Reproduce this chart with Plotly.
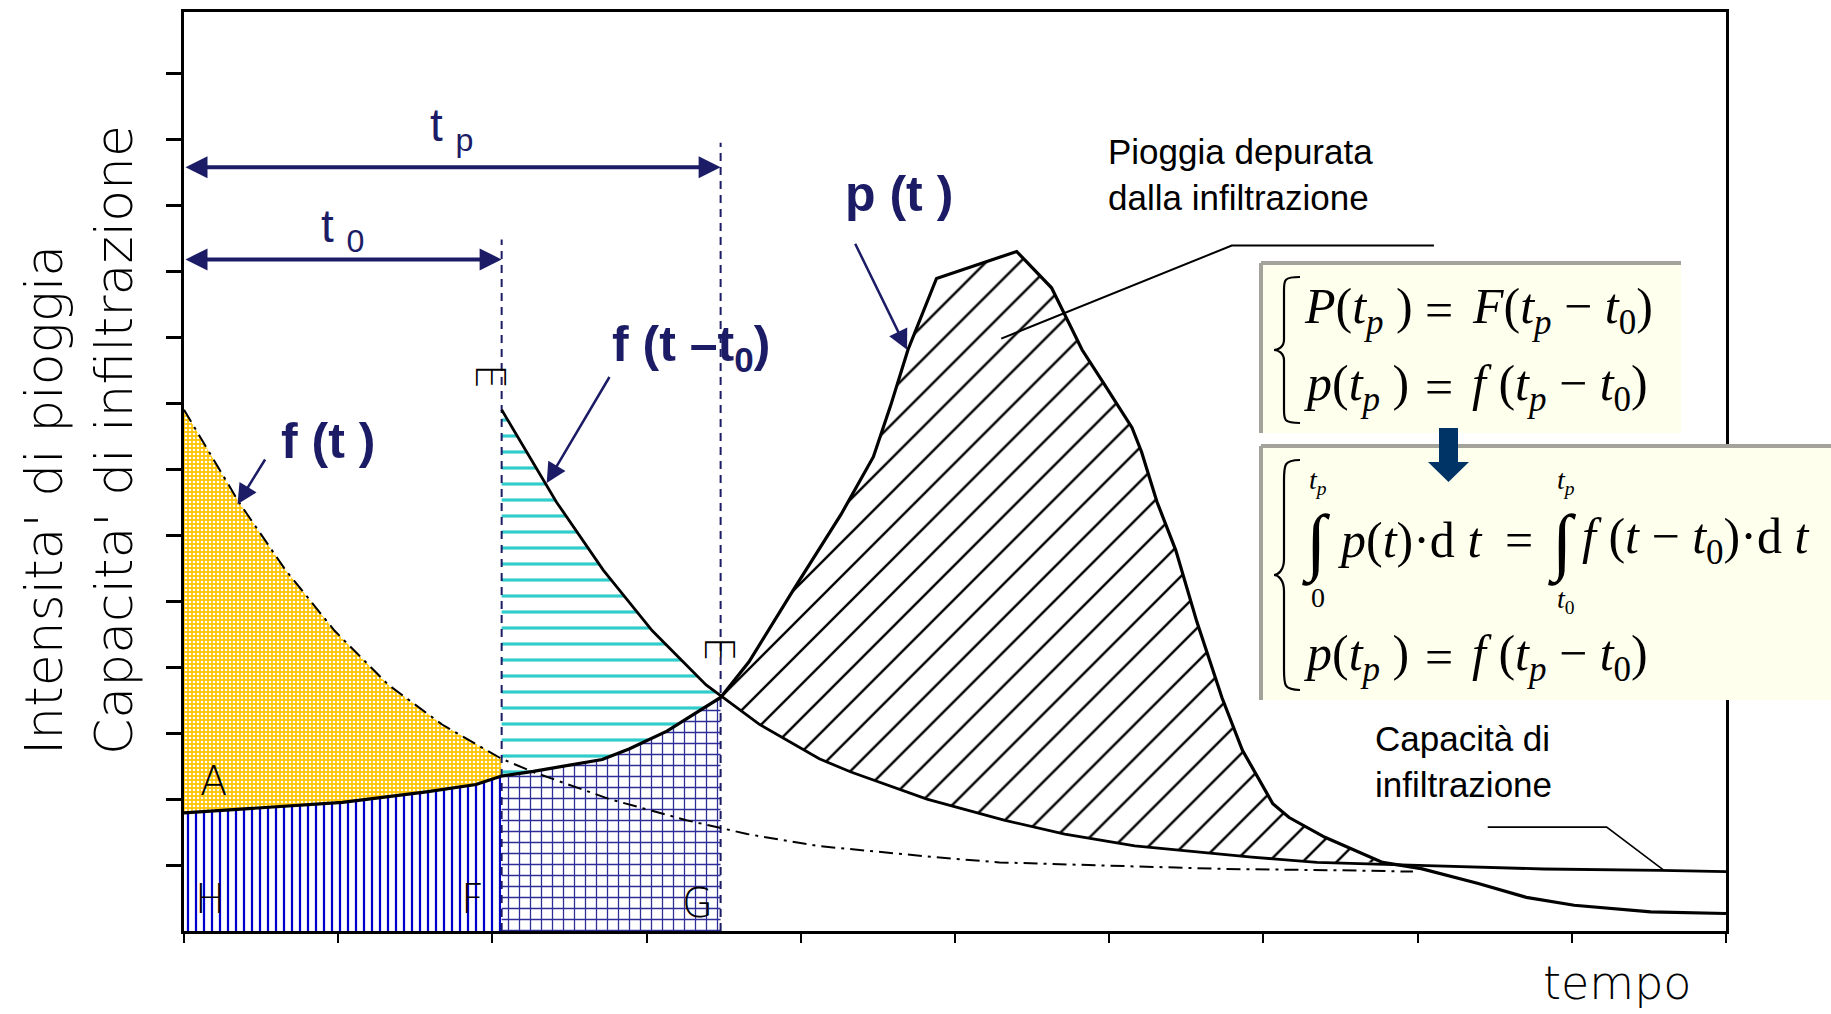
import numpy as np
import plotly.graph_objects as go

# ---------------- data (time units / intensity units) ----------------
T0 = 2.06          # t0
TP = 3.48          # tp
X_CROSS = 7.85     # end of the hatched (net rain) area

# infiltration capacity f(t)
f_t = [0.0, 0.356, 0.659, 0.977, 1.326, 1.674, 2.06, 2.265, 2.758, 3.258, 3.652,
       4.106, 4.864, 5.288, 6.0, 6.758, 7.515, 7.97]
f_val = [7.90, 6.50, 5.47, 4.55, 3.73, 3.13, 2.61, 2.41, 2.00, 1.68, 1.47,
         1.29, 1.12, 1.04, 0.99, 0.94, 0.92, 0.90]

# rainfall intensity p(t)
p_t = [0.0, 0.53, 1.027, 1.572, 1.894, 2.06, 2.265, 2.712, 2.886, 3.132,
       3.48, 3.664, 3.949, 4.26, 4.471, 4.582, 4.695, 4.88, 5.227, 5.40,
       5.626, 5.824, 5.973, 6.148, 6.21, 6.309, 6.432, 6.568, 6.731, 6.864,
       7.061, 7.167, 7.399, 7.65, 7.773, 8.023, 8.394, 8.705, 9.015, 9.512, 10.0]
p_val = [1.79, 1.87, 1.95, 2.11, 2.22, 2.35, 2.42, 2.60, 2.76, 3.03,
         3.54, 4.08, 5.16, 6.31, 7.19, 7.96, 8.81, 9.89, 10.16, 10.30,
         9.75, 8.81, 8.27, 7.63, 7.26, 6.51, 5.77, 4.69, 3.54, 2.74,
         1.93, 1.72, 1.42, 1.17, 1.04, 0.945, 0.72, 0.51, 0.39, 0.29, 0.265]

x_ticks = list(range(0, 11))
y_ticks = list(range(1, 14))
X_RANGE = [0, 10]
Y_RANGE = [0, 13.93]

# labels
lbl_ft = ("f (t )", 0.933, 7.42)
lbl_ft0 = ("f (t –t<sub>0</sub>)", 3.29, 8.85)
lbl_pt = ("p (t )", 4.636, 11.17)
lbl_tp = ("t <sub>p</sub>", 1.735, 12.16)
lbl_t0 = ("t <sub>0</sub>", 1.03, 10.64)
lbl_pioggia = ("Pioggia depurata<br>dalla infiltrazione", 5.98, 11.47)
lbl_capac = ("Capacità di<br>infiltrazione", 7.71, 2.57)
point_letters = [("A", 0.19, 2.28, 0), ("H", 0.167, 0.48, 0), ("F", 1.87, 0.48, 0),
                 ("G", 3.33, 0.42, 0), ("E", 1.985, 8.41, 90), ("E", 3.47, 4.28, 90)]

# pointer arrows (head x, head y, tail x, tail y)
ptr_ft = (0.347, 6.47, 0.532, 7.17)
ptr_ft0 = (2.352, 6.79, 2.765, 8.42)
ptr_pt = (4.689, 8.81, 4.348, 10.44)
Y_ARROW_TP = 11.575
Y_ARROW_T0 = 10.18
Y_TOP_TP = 11.95
Y_TOP_T0 = 10.48
lead_pioggia_x = [8.106, 6.795, 5.30]
lead_pioggia_y = [10.39, 10.39, 8.98]
lead_capac_x = [8.455, 9.226, 9.598]
lead_capac_y = [1.575, 1.575, 0.92]

# ---------------- layout geometry ----------------
W, H = 1831, 1014
ML, MR, MT, MB = 184, 105, 12, 83
PW = W - ML - MR
PH = H - MT - MB


def px(x):
    return (x - ML) / PW


def py(y):
    return (H - MB - y) / PH


NAVY = "#1C1C66"

ft = np.array(f_t)
fv = np.array(f_val)
pt = np.array(p_t)
pv = np.array(p_val)
fs_t = ft + T0          # f(t - t0)

eps = 1e-9
m_left = pt <= T0 + eps
m_mid = (pt >= T0 - eps) & (pt <= TP + eps)

fig = go.Figure()


def region(xs, ys, pattern):
    fig.add_trace(go.Scatter(x=list(xs), y=list(ys), mode="lines", fill="toself",
                             line=dict(width=0, color="rgba(0,0,0,0)"),
                             fillcolor=pattern.get("bgcolor", "white"),
                             fillpattern=pattern, hoverinfo="skip", showlegend=False))


# yellow (A): between f(t) and p(t) for t<t0
region(list(ft[ft <= T0 + eps]) + list(pt[m_left][::-1]),
       list(fv[ft <= T0 + eps]) + list(pv[m_left][::-1]),
       dict(shape=".", fgcolor="white", bgcolor="#FFC400", size=4, solidity=0.35, fillmode="replace"))
# vertical blue hatch under p(t), t<t0
region(list(pt[m_left]) + [T0, 0], list(pv[m_left]) + [0, 0],
       dict(shape="|", fgcolor="#0000CC", bgcolor="white", size=8, solidity=0.28, fillmode="replace"))
# grid under p(t), t0<t<tp
region(list(pt[m_mid]) + [TP, T0], list(pv[m_mid]) + [0, 0],
       dict(shape="+", fgcolor="#2E2E99", bgcolor="white", size=11, solidity=0.22, fillmode="replace"))
# cyan: between f(t-t0) and p(t) for t0<t<tp
m_fs = fs_t < TP
region(list(fs_t[m_fs]) + list(pt[m_mid][::-1]),
       list(fv[m_fs]) + list(pv[m_mid][::-1]),
       dict(shape="-", fgcolor="#33CCCC", bgcolor="white", size=16, solidity=0.2, fillmode="replace"))
# black diagonal hatch: net rain p(t) - f(t-t0)
m_ph = (pt >= TP - eps) & (pt <= X_CROSS)
m_fh = (fs_t > TP) & (fs_t <= X_CROSS)
region(list(pt[m_ph]) + list(fs_t[m_fh][::-1]),
       list(pv[m_ph]) + list(fv[m_fh][::-1]),
       dict(shape="/", fgcolor="black", bgcolor="white", size=24, solidity=0.1, fillmode="replace"))

# vertical dashed lines at t0 and tp
fig.add_trace(go.Scatter(x=[T0, T0], y=[0, Y_TOP_T0], mode="lines",
                         line=dict(color=NAVY, width=2, dash="8px,6px"), hoverinfo="skip", showlegend=False))
fig.add_trace(go.Scatter(x=[TP, TP], y=[0, Y_TOP_TP], mode="lines",
                         line=dict(color=NAVY, width=2, dash="8px,6px"), hoverinfo="skip", showlegend=False))

# curves
fig.add_trace(go.Scatter(x=f_t, y=f_val, mode="lines",
                         line=dict(color="black", width=2, dash="14px,6px,3px,6px"),
                         hoverinfo="skip", showlegend=False))
fig.add_trace(go.Scatter(x=list(fs_t), y=f_val, mode="lines",
                         line=dict(color="black", width=2.8), hoverinfo="skip", showlegend=False))
fig.add_trace(go.Scatter(x=p_t, y=p_val, mode="lines",
                         line=dict(color="black", width=3.2), hoverinfo="skip", showlegend=False))
# leader lines
fig.add_trace(go.Scatter(x=lead_pioggia_x, y=lead_pioggia_y, mode="lines",
                         line=dict(color="black", width=2), hoverinfo="skip", showlegend=False))
fig.add_trace(go.Scatter(x=lead_capac_x, y=lead_capac_y, mode="lines",
                         line=dict(color="black", width=1.6), hoverinfo="skip", showlegend=False))

ann = []
# double arrows tp, t0
for yy, xe in [(Y_ARROW_TP, TP), (Y_ARROW_T0, T0)]:
    ann.append(dict(x=xe, y=yy, ax=0, ay=yy, xref="x", yref="y", axref="x", ayref="y",
                    text="", showarrow=True, arrowhead=2, arrowside="end+start",
                    arrowsize=1.1, arrowwidth=4, arrowcolor=NAVY))
# pointer arrows
for hx, hy, tx, tyy in [ptr_ft, ptr_ft0, ptr_pt]:
    ann.append(dict(x=hx, y=hy, ax=tx, ay=tyy, xref="x", yref="y", axref="x", ayref="y",
                    text="", showarrow=True, arrowhead=2, arrowsize=1.6,
                    arrowwidth=2.5, arrowcolor=NAVY))

BOLD = dict(family="Liberation Sans, Arial, sans-serif", size=50, color=NAVY, weight="bold")
for t, x, y in [lbl_ft, lbl_ft0, lbl_pt]:
    ann.append(dict(x=x, y=y, xref="x", yref="y", text="<b>" + t + "</b>", showarrow=False,
                    font=BOLD, xanchor="center", yanchor="middle"))
for t, x, y in [lbl_tp, lbl_t0]:
    ann.append(dict(x=x, y=y, xref="x", yref="y", text=t, showarrow=False,
                    font=dict(family="Liberation Sans, Arial, sans-serif", size=46, color=NAVY),
                    xanchor="center", yanchor="middle"))
for t, x, y in [lbl_pioggia, lbl_capac]:
    ann.append(dict(x=x, y=y, xref="x", yref="y", text=t, showarrow=False, align="left",
                    font=dict(family="Liberation Sans, Arial, sans-serif", size=35, color="black"),
                    xanchor="left", yanchor="middle"))
for t, x, y, ang in point_letters:
    ann.append(dict(x=x, y=y, xref="x", yref="y", text=t, showarrow=False, textangle=ang,
                    font=dict(family="DejaVu Sans, sans-serif", size=40, color="black", weight=200),
                    xanchor="center", yanchor="middle"))

# axis titles
AX_FONT = dict(family="DejaVu Sans, sans-serif", size=52, color="black", weight=200)
ann.append(dict(x=px(44), y=py(757), xref="paper", yref="paper", text="Intensita' di pioggia",
                showarrow=False, textangle=-90, font=AX_FONT, xanchor="center", yanchor="bottom"))
ann.append(dict(x=px(114), y=py(757), xref="paper", yref="paper", text="Capacita' di infiltrazione",
                showarrow=False, textangle=-90, font=AX_FONT, xanchor="center", yanchor="bottom"))
ann.append(dict(x=px(1617), y=py(1012), xref="paper", yref="paper", text="tempo",
                showarrow=False, font=dict(family="DejaVu Sans, sans-serif", size=46, color="black", weight=200),
                xanchor="center", yanchor="bottom"))

# ---------------- formula boxes ----------------
shapes = []
BOX_FILL = "#FFFFEE"
GRAY = "#A3A39C"
for (x0, y0, x1, y1) in [(1261, 263, 1681, 433), (1261, 446, 1831, 700)]:
    shapes.append(dict(type="rect", xref="paper", yref="paper", x0=px(x0), x1=px(x1),
                       y0=py(y1), y1=py(y0), fillcolor=BOX_FILL, line=dict(width=0), layer="above"))
    shapes.append(dict(type="line", xref="paper", yref="paper", x0=px(x0), x1=px(x1),
                       y0=py(y0), y1=py(y0), line=dict(color=GRAY, width=4), layer="above"))
    shapes.append(dict(type="line", xref="paper", yref="paper", x0=px(x0), x1=px(x0),
                       y0=py(y0), y1=py(y1), line=dict(color=GRAY, width=4), layer="above"))


def P(x, y):
    return f"{px(x):.5f},{py(y):.5f}"


def brace(xt, xm, xp, yt, yb):
    h = yb - yt
    ym = (yt + yb) / 2
    return ("M " + P(xt, yt) +
            " C " + P(xm, yt) + " " + P(xm, yt + 0.02 * h) + " " + P(xm, yt + 0.09 * h) +
            " L " + P(xm, ym - 0.07 * h) +
            " C " + P(xm, ym - 0.02 * h) + " " + P(xp + 4, ym) + " " + P(xp, ym) +
            " C " + P(xp + 4, ym) + " " + P(xm, ym + 0.02 * h) + " " + P(xm, ym + 0.07 * h) +
            " L " + P(xm, yb - 0.09 * h) +
            " C " + P(xm, yb - 0.02 * h) + " " + P(xm, yb) + " " + P(xt, yb))


for yt, yb in [(277, 423), (460, 690)]:
    shapes.append(dict(type="path", xref="paper", yref="paper", path=brace(1300, 1284, 1274, yt, yb),
                       line=dict(color="black", width=2.2), layer="above"))

# down arrow between boxes
arrow_path = ("M " + P(1439, 428) + " L " + P(1458, 428) + " L " + P(1458, 462) + " L " + P(1469, 462) +
              " L " + P(1448.5, 482) + " L " + P(1428, 462) + " L " + P(1439, 462) + " Z")
shapes.append(dict(type="path", xref="paper", yref="paper", path=arrow_path,
                   fillcolor="#003366", line=dict(width=0), layer="above"))

SERIF_FAM = "Liberation Serif, Times New Roman, serif"
SERIF = dict(family=SERIF_FAM, size=50, color="black")
SERIF_S = dict(family=SERIF_FAM, size=28, color="black")


def txt(t, x, y, font, xanchor="left"):
    ann.append(dict(x=px(x), y=py(y), xref="paper", yref="paper", text=t, showarrow=False,
                    font=font, xanchor=xanchor, yanchor="middle"))


left_P = "<i>P</i>(<i>t</i><sub><i>p</i></sub> )"
left_p = "<i>p</i>(<i>t</i><sub><i>p</i></sub> )"
right_F = "<i>F</i>(<i>t</i><sub><i>p</i></sub> − <i>t</i><sub>0</sub>)"
right_f = "<i>f</i> (<i>t</i><sub><i>p</i></sub> − <i>t</i><sub>0</sub>)"
for lt, rt, y in [(left_P, right_F, 310), (left_p, right_f, 387), (left_p, right_f, 657)]:
    txt(lt, 1302, y, SERIF)
    txt("=", 1439, y, SERIF, "center")
    txt(rt, 1470, y, SERIF)

txt("<i>p</i>(<i>t</i>)·d <i>t</i>", 1336, 540, SERIF)
txt("=", 1519, 540, SERIF, "center")
txt("<i>f</i> (<i>t</i> − <i>t</i><sub>0</sub>)·d <i>t</i>", 1580, 540, SERIF)
for xc in [1316, 1562]:
    txt("∫", xc, 543, dict(family=SERIF_FAM, size=74, color="black"), "center")
for t, x, y in [("<i>t<sub>p</sub></i>", 1318, 482), ("0", 1318, 598),
                ("<i>t<sub>p</sub></i>", 1566, 482), ("<i>t</i><sub>0</sub>", 1566, 600)]:
    txt(t, x, y, SERIF_S, "center")

axis_common = dict(showgrid=False, zeroline=False, showticklabels=False, showline=True,
                   mirror=True, linecolor="black", linewidth=3, ticks="outside",
                   tickcolor="black", fixedrange=True)
fig.update_layout(
    width=W, height=H, margin=dict(l=ML, r=MR, t=MT, b=MB, autoexpand=False),
    paper_bgcolor="white", plot_bgcolor="white", showlegend=False,
    xaxis=dict(range=X_RANGE, tickvals=x_ticks, ticklen=9, tickwidth=2, **axis_common),
    yaxis=dict(range=Y_RANGE, tickvals=y_ticks, ticklen=15, tickwidth=2.5, **axis_common),
    annotations=ann, shapes=shapes,
)

fig.write_html("out.html")
